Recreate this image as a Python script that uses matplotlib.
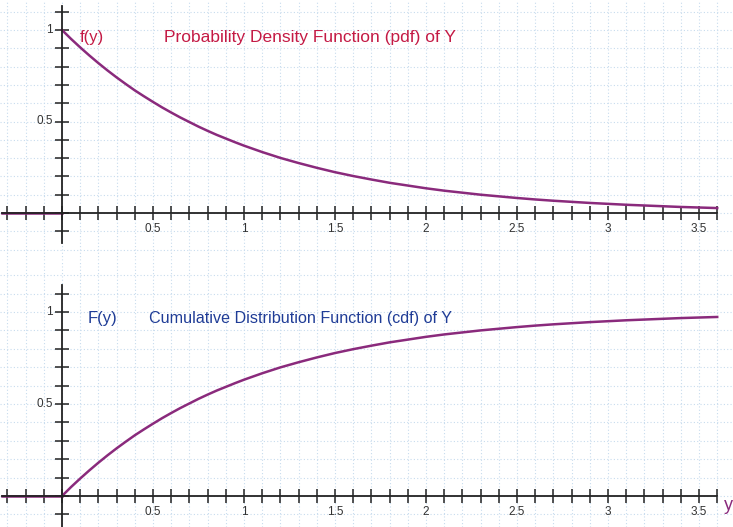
import numpy as np
import matplotlib.pyplot as plt

# values
y_vals = [0.0, 0.05, 0.1, 0.15, 0.2, 0.25, 0.3, 0.35, 0.4, 0.45, 0.5, 0.55,
          0.6, 0.65, 0.7, 0.75, 0.8, 0.85, 0.9, 0.95, 1.0, 1.1, 1.2, 1.3,
          1.4, 1.5, 1.6, 1.7, 1.8, 1.9, 2.0, 2.1, 2.2, 2.3, 2.4, 2.5, 2.6,
          2.7, 2.8, 2.9, 3.0, 3.1, 3.2, 3.3, 3.4, 3.5, 3.6]
pdf_vals = [1.000, 0.951, 0.905, 0.861, 0.819, 0.779, 0.741, 0.705, 0.670,
            0.638, 0.607, 0.577, 0.549, 0.522, 0.497, 0.472, 0.449, 0.427,
            0.407, 0.387, 0.368, 0.333, 0.301, 0.273, 0.247, 0.223, 0.202,
            0.183, 0.165, 0.150, 0.135, 0.122, 0.111, 0.100, 0.091, 0.082,
            0.074, 0.067, 0.061, 0.055, 0.050, 0.045, 0.041, 0.037, 0.033,
            0.030, 0.027]
cdf_vals = [0.000, 0.049, 0.095, 0.139, 0.181, 0.221, 0.259, 0.295, 0.330,
            0.362, 0.393, 0.423, 0.451, 0.478, 0.503, 0.528, 0.551, 0.573,
            0.593, 0.613, 0.632, 0.667, 0.699, 0.727, 0.753, 0.777, 0.798,
            0.817, 0.835, 0.850, 0.865, 0.878, 0.889, 0.900, 0.909, 0.918,
            0.926, 0.933, 0.939, 0.945, 0.950, 0.955, 0.959, 0.963, 0.967,
            0.970, 0.973]
left_y = [-0.33, 0.0]
left_vals = [0.0, 0.0]

x_labels = [0.5, 1, 1.5, 2, 2.5, 3, 3.5]
y_labels = [0.5, 1]

curve_col = '#8a2a7c'
grid_col = '#c8dcee'

plt.rcParams['font.family'] = ['Liberation Sans', 'DejaVu Sans']

W, H = 733, 527
fig = plt.figure(figsize=(W / 100, H / 100), dpi=100)
fig.patch.set_facecolor('white')


def make_axes(top_px, bot_px, zero_px, scale_y, ybounds):
    ax = fig.add_axes([0, 1 - bot_px / H, 1, (bot_px - top_px) / H])
    ax.set_facecolor('none')
    for s in ['top', 'right']:
        ax.spines[s].set_visible(False)
    ax.spines['left'].set_position(('data', 0))
    ax.spines['bottom'].set_position(('data', 0))
    ax.spines['left'].set_bounds(*ybounds)
    ax.spines['bottom'].set_bounds(-0.33, 3.6)
    for s in ['left', 'bottom']:
        ax.spines[s].set_linewidth(1.3)
        ax.spines[s].set_color('#222222')
    ax.set_xticks(np.arange(-0.3, 3.61, 0.1))
    ax.set_yticks(np.arange(-0.1, ybounds[1], 0.1))
    ax.set_xticklabels([])
    ax.set_yticklabels([])
    ax.tick_params(direction='inout', length=10, width=1.1, color='#222222')
    ax.set_xticks(np.arange(-0.3, 3.7, 0.1), minor=True)
    ax.set_yticks(np.arange(-0.3, 1.4, 0.1), minor=True)
    ax.tick_params(which='minor', length=0)
    ax.grid(which='both', color=grid_col, linestyle=(0, (1, 2)), linewidth=0.8)
    ax.set_axisbelow(True)
    ax.set_xlim(-62 / 182, (W - 62) / 182)
    ax.set_ylim((zero_px - bot_px) / scale_y, (zero_px - top_px) / scale_y)
    for v in x_labels:
        ax.text(v, -0.055, f'{v:g}', ha='center', va='top', fontsize=8.5,
                color='#333333')
    for v in y_labels:
        ax.text(-0.05, v, f'{v:g}', ha='right', va='center', fontsize=8.5,
                color='#333333')
    return ax


ax1 = make_axes(0, 260, 213, 183, (-0.165, 1.13))
ax1.plot(left_y, left_vals, color=curve_col, lw=1.8)
ax1.plot(y_vals, pdf_vals, color=curve_col, lw=1.8)
ax1.text(0.1, 0.96, 'f(y)', color='#c41a45', fontsize=12, va='center')
ax1.text(0.56, 0.96, 'Probability Density Function (pdf) of Y',
         color='#c41a45', fontsize=12.5, va='center')

ax2 = make_axes(260, 527, 496, 184, (-0.17, 1.145))
ax2.plot(left_y, left_vals, color=curve_col, lw=1.8)
ax2.plot(y_vals, cdf_vals, color=curve_col, lw=1.8)
ax2.text(0.14, 0.967, 'F(y)', color='#1f3c96', fontsize=12, va='center')
ax2.text(0.48, 0.967, 'Cumulative Distribution Function (cdf) of Y',
         color='#1f3c96', fontsize=11.6, va='center')
ax2.text(3.685, -0.05, 'y', color=curve_col, fontsize=13, va='center',
         ha='right')

fig.savefig('out.png', dpi=100)
